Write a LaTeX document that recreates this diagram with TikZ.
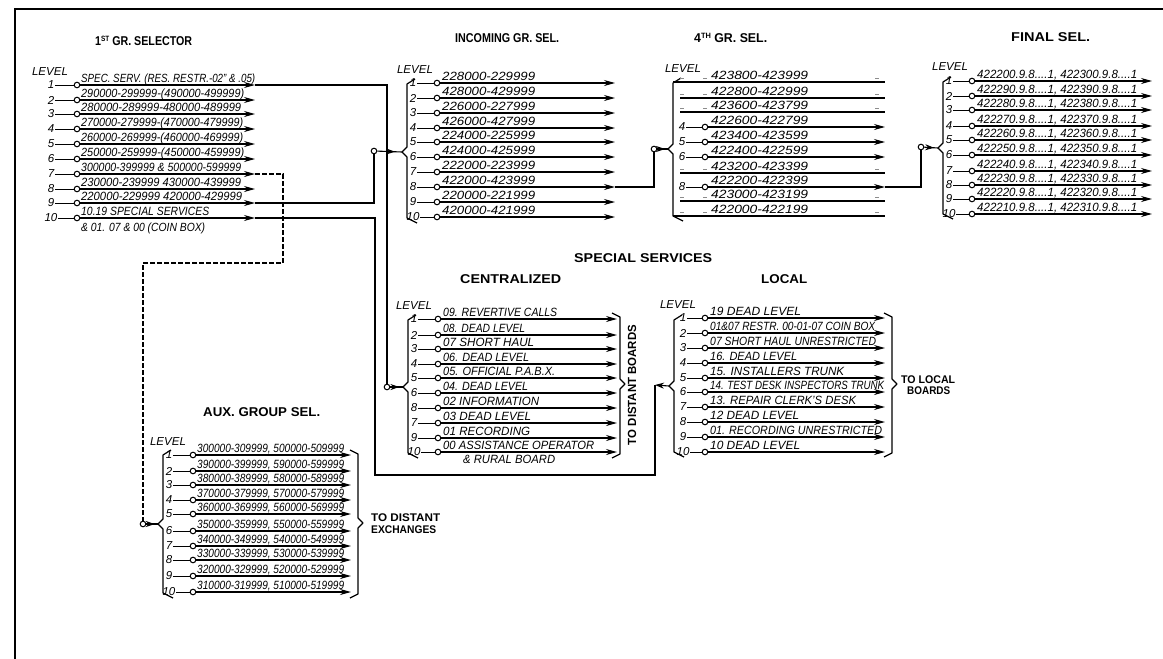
\documentclass[tikz,border=0pt]{standalone}
\usepackage{fontspec}
\setmainfont{Liberation Sans}
\usetikzlibrary{arrows.meta,decorations.markings}
\tikzset{
  frameline/.style={line width=1.5pt},
  contact/.style={circle,draw,fill=white,inner sep=0pt,minimum size=5.6pt,line width=1pt},
  lvnum/.style={inner sep=0.6pt,font=\itshape\fontsize{11.5}{11.5}\selectfont},
  lab/.style={anchor=base west,inner sep=0pt,font=\itshape\fontsize{10}{10}\selectfont},
  stub/.style={line width=1pt},
  bank/.style={line width=1.25pt,-{Stealth[length=11pt,width=6pt]}},
  plain/.style={line width=1.25pt},
  trunk/.style={line width=1.2pt,line join=miter},
  dashtrunk/.style={line width=1.2pt,dash pattern=on 5pt off 2pt},
  feed/.style={line width=1.1pt,postaction={decorate},decoration={markings,mark=at position 0.72 with {\arrow{Stealth[length=9pt,width=6pt]}}}},
  bracket/.style={line width=1.2pt,line join=round},
  title/.style={inner sep=0pt,anchor=base west,font=\bfseries\fontsize{10}{10}\selectfont},
  levelword/.style={inner sep=0pt,font=\itshape\fontsize{11.5}{11.5}\selectfont},
  faint/.style={line width=0.6pt,black!45}
}
\newcommand\fitbox[3]{\resizebox{#1pt}{#2pt}{\rule{0pt}{0.72em}#3}}
\newcommand\rw[4][\BW]{%
  \node[lvnum] (\blk n#2) at (\BN,#3) {#2};
  \node[contact] (\blk c#2) at (\BC,#3) {};
  \coordinate (\blk e#2) at (\BE,#3);
  \draw[stub] (\blk n#2) -- (\blk c#2);
  \draw[bank] (\blk c#2) -- (\blk e#2);
  \node[lab] (\blk t#2) at (\BT,#3-3) {\fitbox{#1}{8.6}{#4}};
}
% row whose selector contact did not print: line, text and faint ticks only
\newcommand\drw[4]{%
  \coordinate (\blk s#1) at (#3,#2);
  \coordinate (\blk e#1) at (\BE,#2);
  \draw[plain] (\blk s#1) -- (\blk e#1);
  \node[lab] (\blk t#1) at (\BT,#2-3) {\fitbox{\BW}{8.6}{#4}};
  \draw[faint] (680,#2-4) -- (684,#2-4) (703,#2-4) -- (707,#2-4) (875,#2-4) -- (879,#2-4);
}
\newcommand\mkleftbr[5]{% name x top tip bottom
  \coordinate (#1) at (#2-5,#4);
  \draw[bracket] (#2+8,#3-5) -- (#2,#3) -- (#2,#4-5) -- (#1) -- (#2,#4+5) -- (#2,#5) -- (#2+10,#5+5);
}
\newcommand\mkrightbr[5]{% name x top tip bottom
  \coordinate (#1) at (#2+5,#4);
  \draw[bracket] (#2-8,#3-4) -- (#2,#3) -- (#2,#4-5) -- (#1) -- (#2,#4+5) -- (#2,#5) -- (#2-8,#5+4);
}
\newcommand\ttl[5]{% name x ybase width text
  \node[title] (#1) at (#2,#3) {\fitbox{#4}{9.2}{#5}};
}
\begin{document}
\begin{tikzpicture}[x=1pt,y=-1pt]
\useasboundingbox (0,0) rectangle (1163,659);
\draw[frameline] (1163,9) -- (15,9) -- (15,659);

% titles
\ttl{h1}{95}{45}{97}{1\smash{\raisebox{.3em}{\scalebox{.6}{ST}}} GR. SELECTOR}
\ttl{h2}{455}{42}{104}{INCOMING GR. SEL.}
\ttl{h3}{694}{42}{73}{4\smash{\raisebox{.3em}{\scalebox{.6}{TH}}} GR. SEL.}
\ttl{h4}{1011}{41}{79}{FINAL SEL.}
\ttl{h5}{574}{262}{138}{SPECIAL SERVICES}
\ttl{h6}{460}{283}{101}{CENTRALIZED}
\ttl{h7}{761}{283}{46}{LOCAL}
\ttl{h8}{203}{416}{117}{AUX. GROUP SEL.}

% level words
\node[levelword] (w1) at (50,72) {LEVEL};
\node[levelword] (w2) at (415,70) {LEVEL};
\node[levelword] (w3) at (683,69) {LEVEL};
\node[levelword] (w4) at (950,67) {LEVEL};
\node[levelword] (w5) at (414,306) {LEVEL};
\node[levelword] (w6) at (678,305) {LEVEL};
\node[levelword] (w7) at (168,442) {LEVEL};

% 1st group selector
\def\blk{g}\def\BN{51}\def\BC{77}\def\BE{255}\def\BT{81}\def\BW{161}
\rw[174]{1}{85}{SPEC. SERV. (RES. RESTR.-02" \& .05)}
\rw[163]{2}{100}{290000-299999-(490000-499999)}
\rw[160]{3}{114}{280000-289999-480000-489999}
\rw[162]{4}{129}{270000-279999-(470000-479999)}
\rw[162]{5}{144}{260000-269999-(460000-469999)}
\rw[163]{6}{159}{250000-259999-(450000-459999)}
\rw[160]{7}{174}{300000-399999 \& 500000-599999}
\rw[160]{8}{189}{230000-239999 430000-439999}
\rw[161]{9}{203}{220000-229999 420000-429999}
\rw[128]{10}{218}{10.19 SPECIAL SERVICES}
\node[lab] (gnote) at (81,231) {\fitbox{124}{8.6}{\& 01. 07 \& 00 (COIN BOX)}};

% incoming group selector
\def\blk{i}\def\BN{413}\def\BC{437}\def\BE{615}\def\BT{442}\def\BW{93}
\mkleftbr{ib}{407}{84}{152}{218}
\rw{1}{83}{228000-229999}
\rw{2}{98}{428000-429999}
\rw{3}{113}{226000-227999}
\rw{4}{128}{426000-427999}
\rw{5}{142}{224000-225999}
\rw{6}{157}{424000-425999}
\rw{7}{172}{222000-223999}
\rw{8}{187}{422000-423999}
\rw{9}{202}{220000-221999}
\rw{10}{217}{420000-421999}
\node[contact] (ii) at (374,151) {};

% 4th group selector
\def\blk{f}\def\BN{682}\def\BC{705}\def\BE{885}\def\BT{711}\def\BW{97}
\mkleftbr{fb}{673}{83}{149}{216}
\drw{1}{82}{673}{423800-423999}
\drw{2}{98}{680}{422800-422999}
\drw{3}{112}{680}{423600-423799}
\rw{4}{127}{422600-422799}
\rw{5}{142}{423400-423599}
\rw{6}{157}{422400-422599}
\drw{7}{173}{680}{423200-423399}
\rw{8}{187}{422200-422399}
\drw{9}{201}{680}{423000-423199}
\drw{10}{216}{673}{422000-422199}
\node[contact] (fi) at (654,149) {};

% final selector
\def\blk{z}\def\BN{949}\def\BC{972}\def\BE{1152}\def\BT{977}\def\BW{160}
\mkleftbr{zb}{943}{82}{148}{214}
\rw{1}{81}{422200.9.8....1, 422300.9.8....1}
\rw{2}{96}{422290.9.8....1, 422390.9.8....1}
\rw{3}{110}{422280.9.8....1, 422380.9.8....1}
\rw{4}{126}{422270.9.8....1, 422370.9.8....1}
\rw{5}{140}{422260.9.8....1, 422360.9.8....1}
\rw{6}{155}{422250.9.8....1, 422350.9.8....1}
\rw{7}{171}{422240.9.8....1, 422340.9.8....1}
\rw{8}{185}{422230.9.8....1, 422330.9.8....1}
\rw{9}{199}{422220.9.8....1, 422320.9.8....1}
\rw{10}{214}{422210.9.8....1, 422310.9.8....1}
\node[contact] (zi) at (921,147) {};

% centralized special services
\def\blk{c}\def\BN{414}\def\BC{438}\def\BE{617}\def\BT{443}\def\BW{90}
\mkleftbr{cb}{408}{320}{387}{453}
\mkrightbr{cr}{620}{317}{384}{454}
\rw[114]{1}{319}{09. REVERTIVE CALLS}
\rw[82]{2}{335}{08. DEAD LEVEL}
\rw[91]{3}{349}{07 SHORT HAUL}
\rw[86]{4}{364}{06. DEAD LEVEL}
\rw[112]{5}{378}{05. OFFICIAL P.A.B.X.}
\rw[85]{6}{393}{04. DEAD LEVEL}
\rw[96]{8}{408}{02 INFORMATION}
\rw[88]{7}{423}{03 DEAD LEVEL}
\rw[87]{9}{438}{01 RECORDING}
\rw[151]{10}{452}{00 ASSISTANCE OPERATOR}
\node[lab] (cnote) at (463,463) {\fitbox{92}{8.6}{\& RURAL BOARD}};
\node[contact] (ci) at (387,387) {};
\node[title,anchor=base,rotate=90] (ct) at (636,385) {\fitbox{120}{8.5}{TO DISTANT BOARDS}};

% local special services
\def\blk{l}\def\BN{683}\def\BC{705}\def\BE{885}\def\BT{710}\def\BW{90}
\mkleftbr{lb}{674}{320}{386}{452}
\mkrightbr{lr}{892}{317}{384}{453}
\rw[91]{1}{318}{19 DEAD LEVEL}
\rw[165]{2}{333}{01\&07 RESTR. 00-01-07 COIN BOX}
\rw[166]{3}{348}{07 SHORT HAUL UNRESTRICTED}
\rw[87]{4}{363}{16. DEAD LEVEL}
\rw[134]{5}{378}{15. INSTALLERS TRUNK}
\rw[174]{6}{392}{14. TEST DESK INSPECTORS TRUNK}
\rw[146]{7}{407}{13. REPAIR CLERK'S DESK}
\rw[89]{8}{422}{12 DEAD LEVEL}
\rw[172]{9}{437}{01. RECORDING UNRESTRICTED}
\rw[90]{10}{452}{10 DEAD LEVEL}
\node[title] (lt1) at (901,383) {\fitbox{54}{8}{TO LOCAL}};
\node[title] (lt2) at (907,394) {\fitbox{43}{8}{BOARDS}};

% auxiliary group selector
\def\blk{a}\def\BN{169}\def\BC{193}\def\BE{351}\def\BT{197}\def\BW{147}
\mkleftbr{ab}{163}{455}{524}{593}
\mkrightbr{ar}{358}{454}{523}{594}
\rw{1}{455}{300000-309999, 500000-509999}
\rw{2}{471}{390000-399999, 590000-599999}
\rw{3}{485}{380000-389999, 580000-589999}
\rw{4}{500}{370000-379999, 570000-579999}
\rw{5}{514}{360000-369999, 560000-569999}
\rw{6}{531}{350000-359999, 550000-559999}
\rw{7}{546}{340000-349999, 540000-549999}
\rw{8}{560}{330000-339999, 530000-539999}
\rw{9}{576}{320000-329999, 520000-529999}
\rw{10}{592}{310000-319999, 510000-519999}
\node[contact] (ai) at (143,524) {};
\node[title] (at1) at (371,521) {\fitbox{69}{8}{TO DISTANT}};
\node[title] (at2) at (371,533) {\fitbox{65}{8}{EXCHANGES}};

% feeders into the brackets
\draw[feed] (ii) -- (ib);
\draw[feed] (fi) -- (fb);
\draw[feed] (zi) -- (zb);
\draw[feed] (ci) -- (cb);
\draw[feed] (ai) -- (ab);

% trunks between selectors
\draw[trunk] (ge1) -| (ci.north);
\draw[trunk] (ge9) -| (ii.south);
\draw[trunk] (ie8) -| (fi.south);
\draw[trunk] (fe8) -| (zi.south);
\coordinate (t1) at (375,475);
\coordinate (t2) at (655,475);
\coordinate (t3) at (655,385);
\draw[trunk] (ge10) -| (t1) -- (t2) -- (t3);
\draw[line width=1.1pt,-{Stealth[length=9pt,width=6pt]}] (lb) -- (t3);
\coordinate (d1) at (283,263);
\coordinate (d2) at (143,263);
\draw[dashtrunk] (ge7) -| (d1) -- (d2) -- (ai.north);
\end{tikzpicture}
\end{document}
